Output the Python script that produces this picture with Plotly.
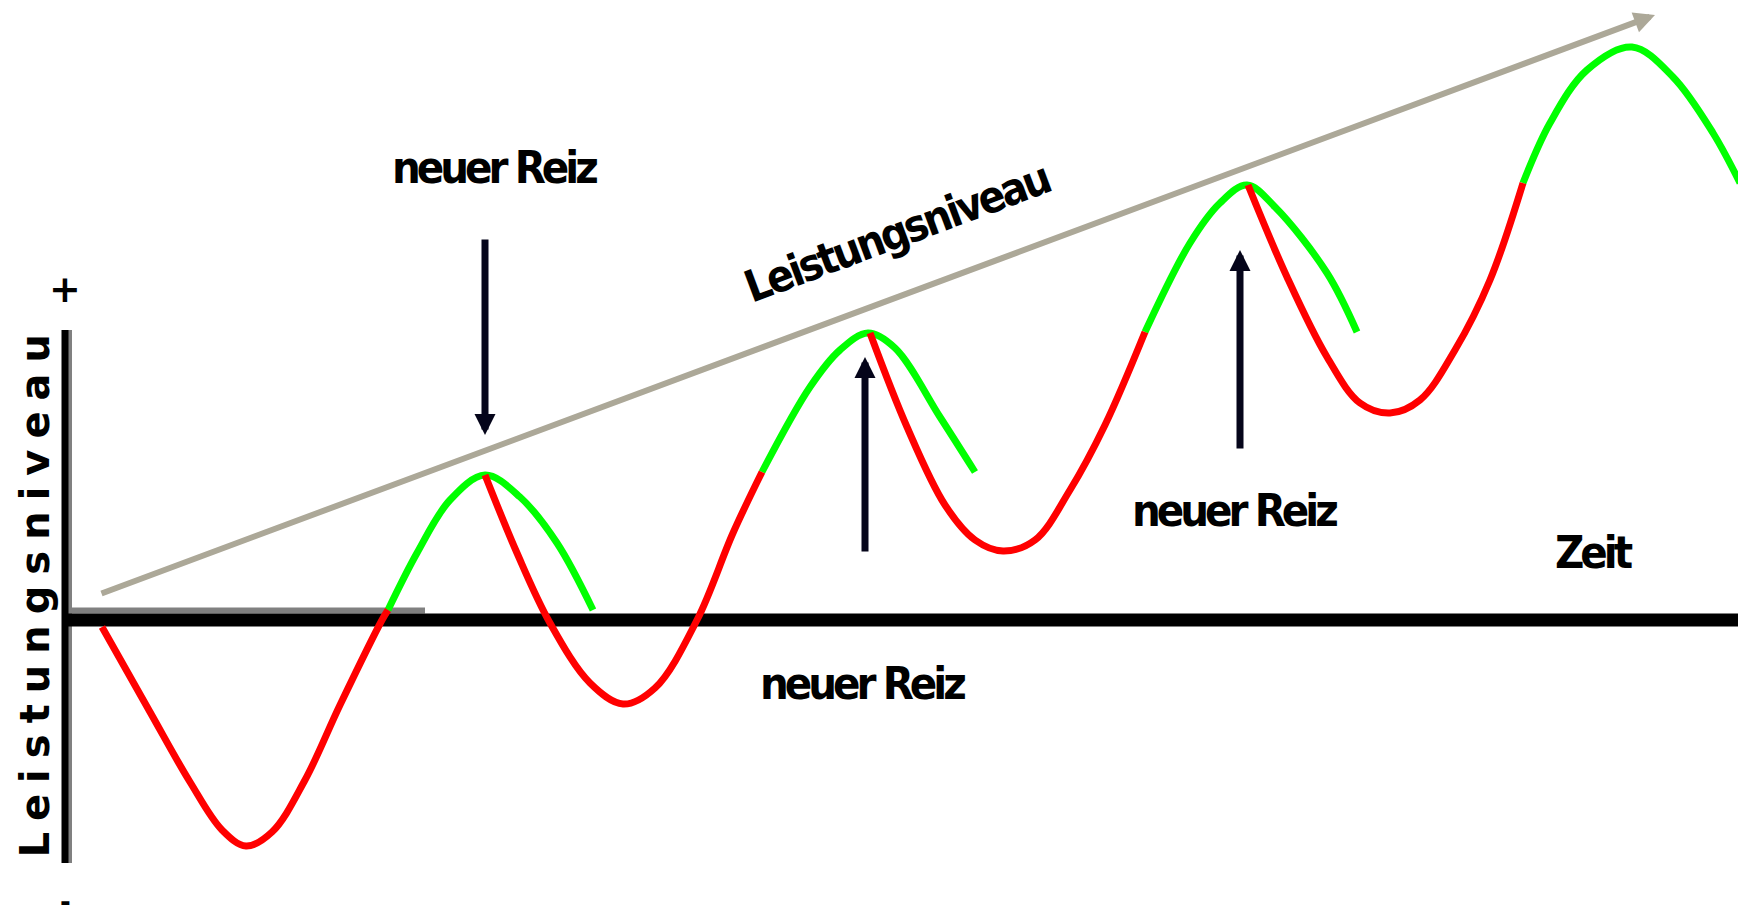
import plotly.graph_objects as go

# Units: t = time (arbitrary), L = performance level (0 = baseline)
# Load / recovery phases (red), segments separated by None
red_t = [37, 85, 125, 157, 181, 207, 240, 275, 317, 323, None,
         420, 452, 485, 525, 558, 590, 632, 668, 697, None,
         805, 842, 880, 910, 938, 970, 1005, 1040, 1080, None,
         1183, 1222, 1262, 1295, 1325, 1355, 1390, 1425, 1458]
red_L = [-7, -92, -162, -210, -226, -212, -160, -85, 0, 10, None,
         145, 67, -3, -63, -84, -68, 0, 87, 148, None,
         287, 193, 115, 80, 69, 80, 130, 195, 288, None,
         435, 343, 263, 217, 207, 220, 270, 340, 437]

# Supercompensation phases (green)
green_t = [323, 352, 385, 420, 455, 492, 528, None,
           697, 745, 775, 803, 830, 875, 910, None,
           1080, 1125, 1155, 1182, 1210, 1262, 1292, None,
           1458, 1485, 1522, 1567, 1608, 1648, 1675]
green_L = [10, 67, 120, 145, 123, 77, 10, None,
           148, 233, 270, 287, 272, 203, 148, None,
           288, 377, 417, 435, 413, 347, 288, None,
           437, 497, 550, 573, 543, 487, 437]

# Axes of the diagram
baseline_t = [-3, 1673]
baseline_L = [0, 0]
vaxis_t = [0, 0]
vaxis_L = [290, -243]
vshadow_t = [5, 5]
hshadow_t = [4, 360]
hshadow_L = [9.5, 9.5]

# Rising performance level trend arrow
trend_t = [35, 1590]
trend_L = [26, 605]

# "neuer Reiz" stimulus arrows
stim_t = [420, 800, 1175]
stim_from_L = [382, 67, 170]
stim_to_L = [185, 263, 370]

# Labels
reiz_label = "neuer Reiz"
reiz_t = [429, 797, 1169]
reiz_L = [453, -63, 110]
time_label = "Zeit"
time_pos = (1529, 68)
trend_label = "Leistungsniveau"
trend_pos = (831, 388)
y_label = "Leistungsniveau"
y_pos = (-30.5, 30)
plus_pos = (0, 331)
minus_pos = (0, -299)

fig = go.Figure()

# axis shadows and axes
fig.add_trace(go.Scatter(x=vshadow_t, y=vaxis_L, mode="lines",
                         line=dict(color="#808080", width=4), hoverinfo="skip"))
fig.add_trace(go.Scatter(x=hshadow_t, y=hshadow_L, mode="lines",
                         line=dict(color="#808080", width=6), hoverinfo="skip"))
fig.add_trace(go.Scatter(x=vaxis_t, y=vaxis_L, mode="lines",
                         line=dict(color="#000000", width=7), hoverinfo="skip"))
fig.add_trace(go.Scatter(x=baseline_t, y=baseline_L, mode="lines",
                         line=dict(color="#000000", width=13), hoverinfo="skip"))

# curves
fig.add_trace(go.Scatter(x=green_t, y=green_L, mode="lines", connectgaps=False,
                         line=dict(color="#00ff00", width=7, shape="spline", smoothing=1),
                         hoverinfo="skip"))
fig.add_trace(go.Scatter(x=red_t, y=red_L, mode="lines", connectgaps=False,
                         line=dict(color="#ff0000", width=7, shape="spline", smoothing=1),
                         hoverinfo="skip"))

annotations = []
# trend arrow
annotations.append(dict(x=trend_t[1], y=trend_L[1], ax=trend_t[0], ay=trend_L[0],
                        xref="x", yref="y", axref="x", ayref="y", text="",
                        showarrow=True, arrowhead=2, arrowsize=0.7, arrowwidth=6,
                        arrowcolor="#aca898", standoff=0, startstandoff=0))
# stimulus arrows
for t, a, b in zip(stim_t, stim_from_L, stim_to_L):
    annotations.append(dict(x=t, y=b, ax=t, ay=a, xref="x", yref="y", axref="x", ayref="y",
                            text="", showarrow=True, arrowhead=2, arrowsize=0.6,
                            arrowwidth=7, arrowcolor="#05051a", standoff=0, startstandoff=0))

cond_bold = dict(family="DejaVu Sans Condensed, DejaVu Sans, sans-serif",
                 size=45, color="#000000", weight="bold")


def tight(s, px):
    return '<span style="letter-spacing:%spx">%s</span>' % (px, s)


for t, L in zip(reiz_t, reiz_L):
    annotations.append(dict(x=t, y=L, xref="x", yref="y", text=tight(reiz_label, -4),
                            showarrow=False, font=cond_bold,
                            xanchor="center", yanchor="middle"))
annotations.append(dict(x=time_pos[0], y=time_pos[1], xref="x", yref="y",
                        text=tight(time_label, -4), showarrow=False, font=cond_bold,
                        xanchor="center", yanchor="middle"))
annotations.append(dict(x=trend_pos[0], y=trend_pos[1], xref="x", yref="y",
                        text=tight(trend_label, -3), showarrow=False, textangle=-20.5,
                        font=dict(family="DejaVu Sans Condensed, DejaVu Sans, sans-serif",
                                  size=44, color="#000000", weight="bold"),
                        xanchor="center", yanchor="middle"))
annotations.append(dict(x=y_pos[0], y=y_pos[1], xref="x", yref="y",
                        text=tight(y_label, 11), showarrow=False, textangle=-90,
                        font=dict(family="DejaVu Sans, sans-serif", size=40, color="#000000",
                                  weight="bold"),
                        xanchor="center", yanchor="middle"))
annotations.append(dict(x=plus_pos[0], y=plus_pos[1], xref="x", yref="y", text="+",
                        showarrow=False, font=dict(family="DejaVu Sans, sans-serif", size=38,
                                                   color="#000000", weight="bold"),
                        xanchor="center", yanchor="middle"))
annotations.append(dict(x=minus_pos[0], y=minus_pos[1], xref="x", yref="y", text="-",
                        showarrow=False, font=dict(family="DejaVu Sans, sans-serif", size=26,
                                                   color="#000000", weight="bold"),
                        xanchor="center", yanchor="bottom"))

fig.update_layout(
    width=1738, height=920,
    margin=dict(l=0, r=0, t=0, b=0),
    paper_bgcolor="white", plot_bgcolor="white",
    showlegend=False,
    xaxis=dict(range=[-65, 1673], visible=False, fixedrange=True),
    yaxis=dict(range=[-300, 620], visible=False, fixedrange=True),
    annotations=annotations,
)

fig.write_html("out.html", include_plotlyjs=True, config={"displayModeBar": False},
               post_script="document.body.style.margin='0';")
